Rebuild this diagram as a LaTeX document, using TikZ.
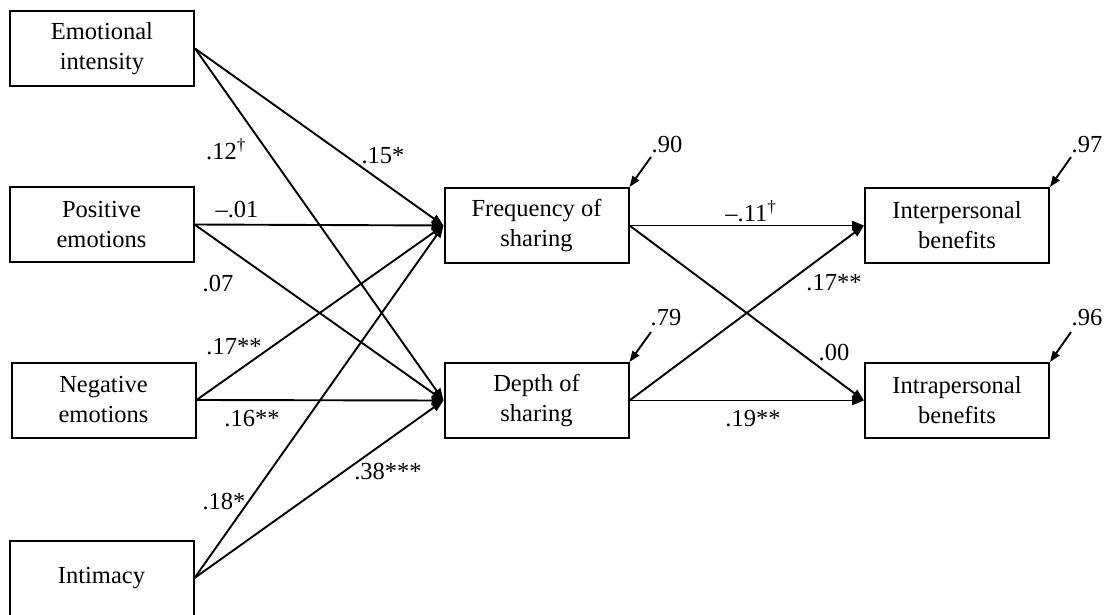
\documentclass[tikz,border=0pt]{standalone}
\usepackage{fontspec}
\setmainfont{Liberation Serif}
\usetikzlibrary{arrows.meta}
\begin{document}
\begin{tikzpicture}[x=1pt,y=-1pt,
  box/.style={draw,line width=2pt,minimum width=184pt,minimum height=75pt,inner sep=0pt,align=center,font=\fontsize{24.5}{30}\selectfont},
  lab/.style={inner sep=0pt,font=\fontsize{24.5}{28}\selectfont},
  conn/.style={line width=1.9pt,-{Triangle[length=12pt,width=9pt]}},
  resid/.style={line width=1.9pt,-{Triangle[length=11pt,width=8pt]}}]
\useasboundingbox (0,0) rectangle (1108,615);
% left boxes
\node[box] (ei) at (102,48.5) {Emotional\\intensity};
\node[box] (pe) at (101.5,224.5) {Positive\\emotions};
\node[box] (ne) at (103.5,400) {Negative\\emotions};
\node[box] (im) at (101.5,578) {Intimacy};
% middle boxes
\node[box] (fs) at (536.5,225.5) {Frequency of\\sharing};
\node[box] (ds) at (536.5,400.5) {Depth of\\sharing};
% right boxes
\node[box] (ib) at (957,225.5) {Interpersonal\\benefits};
\node[box] (rb) at (957,400.5) {Intrapersonal\\benefits};
% left connectors
\draw[conn] (ei.east) -- (fs.west);
\draw[conn] (ei.east) -- (ds.west);
\draw[conn] (pe.east) -- (fs.west);
\draw[conn] (pe.east) -- (ds.west);
\draw[conn] (ne.east) -- (fs.west);
\draw[conn] (ne.east) -- (ds.west);
\draw[conn] (im.east) -- (fs.west);
\draw[conn] (im.east) -- (ds.west);
% right connectors
\draw[conn] (fs.east) -- (ib.west);
\draw[conn] (fs.east) -- (rb.west);
\draw[conn] (ds.east) -- (ib.west);
\draw[conn] (ds.east) -- (rb.west);
% residuals
\coordinate (r1) at (651,157);
\coordinate (r2) at (651,332);
\coordinate (r3) at (1071,157);
\coordinate (r4) at (1071,332);
\draw[resid] (r1) -- (fs.north east);
\draw[resid] (r2) -- (ds.north east);
\draw[resid] (r3) -- (ib.north east);
\draw[resid] (r4) -- (rb.north east);
\node[lab] (l90) at (667,145) {.90};
\node[lab] (l79) at (666,318) {.79};
\node[lab] (l97) at (1087,145) {.97};
\node[lab] (l96) at (1087,318) {.96};
% path labels
\node[lab] (a1) at (226,149) {.12\textsuperscript{\dag}};
\node[lab] (a2) at (383,156) {.15*};
\node[lab] (a3) at (237,210) {\textendash.01};
\node[lab] (a4) at (218,284) {.07};
\node[lab] (a5) at (234,347) {.17**};
\node[lab] (a6) at (252,419) {.16**};
\node[lab] (a7) at (388,472) {.38***};
\node[lab] (a8) at (224,502) {.18*};
\node[lab] (b1) at (751,211) {\textendash.11\textsuperscript{\dag}};
\node[lab] (b2) at (834,283) {.17**};
\node[lab] (b3) at (834,353) {.00};
\node[lab] (b4) at (753,419) {.19**};
\end{tikzpicture}
\end{document}
